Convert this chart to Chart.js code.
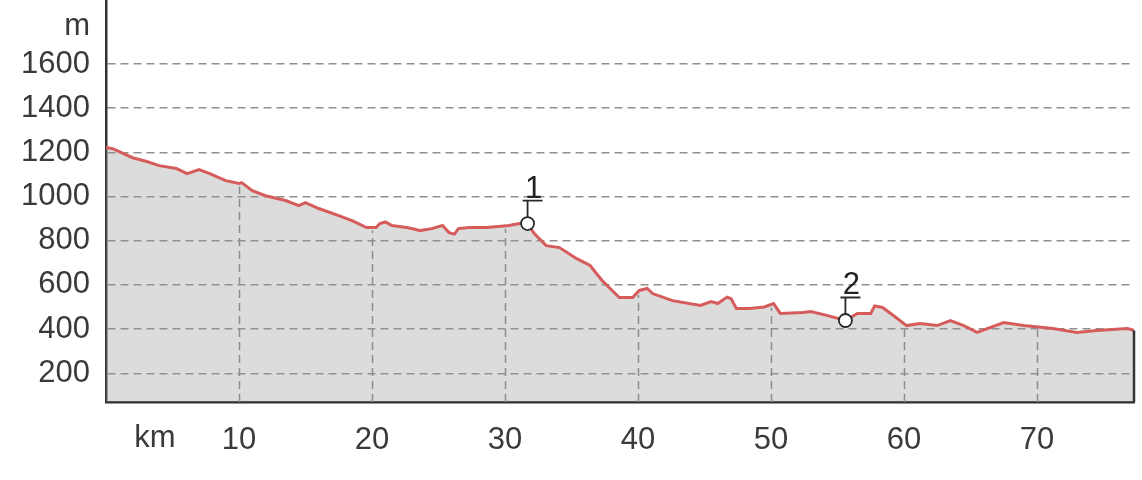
<!DOCTYPE html>
<html>
<head>
<meta charset="utf-8">
<script src="https://cdn.jsdelivr.net/npm/chart.js@4"></script>
<style>
  html, body { margin: 0; padding: 0; background: #fff; }
  #wrap { width: 1142px; height: 480px; position: relative; }
</style>
</head>
<body>
<div id="wrap"><canvas id="profile"></canvas></div>
<script>
// distance along the route (km) and elevation (m)
const distanceKm = [0, 0.5, 2.0, 3.0, 4.0, 5.3, 6.1, 7.0, 7.8, 9.0, 10.0, 10.2, 11.0, 12.0, 13.5, 14.5, 15.0, 16.0, 17.5, 18.5,
  19.6, 20.3, 20.6, 21.0, 21.5, 22.6, 23.3, 23.6, 24.5, 25.3, 25.8, 26.2, 26.5, 27.3, 28.6, 29.5, 30.3, 31.1, 31.7, 32.2, 33.1, 34.1,
  35.4, 36.4, 37.3, 38.6, 39.6, 40.1, 40.7, 41.1, 42.6, 44.7, 45.5, 46.0, 46.7, 47.0, 47.4, 48.4, 49.5, 50.2, 50.7, 52.4, 53.0, 54.2, 55.6,
  56.5, 57.5, 57.8, 58.4, 59.5, 60.2, 61.2, 62.5, 63.5, 64.5, 65.5, 67.5, 69.0, 71.2, 73.0, 74.5, 76.8, 77.3];
const elevationM = [1222, 1217, 1176, 1160, 1140, 1127, 1104, 1122, 1104, 1072, 1059, 1063, 1027, 1004, 982, 959, 973, 946, 914, 891,
  860, 860, 878, 885, 869, 860, 851, 846, 855, 869, 837, 830, 855, 860, 860, 865, 869, 878, 878, 833, 778, 769,
  719, 688, 620, 543, 543, 575, 584, 561, 529, 507, 525, 516, 545, 538, 493, 493, 500, 516, 471, 475, 480, 462, 439,
  471, 471, 505, 498, 448, 416, 425, 416, 439, 416, 385, 430, 416, 403, 385, 394, 403, 394];

// waypoints
const markerKm = [31.7, 55.6];
const markerElev = [878, 439];
const markerLabels = ['1', '2'];

const xTicks = [10, 20, 30, 40, 50, 60, 70];
const yTicks = [200, 400, 600, 800, 1000, 1200, 1400, 1600];

const FONT = { family: "'Liberation Sans', Arial, sans-serif", size: 31 };
const TEXT = '#3a3a3a';

const elevAt = (km) => {
  for (let i = 1; i < distanceKm.length; i++) {
    if (km <= distanceKm[i]) {
      const t = (km - distanceKm[i - 1]) / (distanceKm[i] - distanceKm[i - 1]);
      return elevationM[i - 1] + t * (elevationM[i] - elevationM[i - 1]);
    }
  }
  return elevationM[elevationM.length - 1];
};

// vertical grid lines only below the profile
const underGrid = {
  id: 'underGrid',
  beforeDatasetsDraw(chart) {
    const { ctx, scales: { x, y }, chartArea } = chart;
    ctx.save();
    ctx.strokeStyle = '#8a8a8a';
    ctx.lineWidth = 1.5;
    ctx.setLineDash([8, 5]);
    xTicks.forEach(km => {
      const px = Math.round(x.getPixelForValue(km)) + 0.5;
      const py = y.getPixelForValue(elevAt(km));
      ctx.beginPath();
      ctx.moveTo(px, chartArea.bottom);
      ctx.lineTo(px, py + 3);
      ctx.stroke();
    });
    ctx.restore();
  }
};

const extras = {
  id: 'extras',
  afterDatasetsDraw(chart) {
    const { ctx, scales: { x, y }, chartArea } = chart;
    ctx.save();
    // right edge of the profile
    const last = distanceKm.length - 1;
    ctx.strokeStyle = '#333';
    ctx.lineWidth = 2.5;
    ctx.beginPath();
    ctx.moveTo(x.getPixelForValue(distanceKm[last]), y.getPixelForValue(elevationM[last]));
    ctx.lineTo(x.getPixelForValue(distanceKm[last]), chartArea.bottom);
    ctx.stroke();

    // waypoint markers
    markerKm.forEach((km, i) => {
      const px = x.getPixelForValue(km);
      const py = y.getPixelForValue(markerElev[i]);
      ctx.strokeStyle = '#2a2a2a';
      ctx.lineWidth = 1.8;
      ctx.beginPath();
      ctx.moveTo(px, py - 6);
      ctx.lineTo(px, py - 23);
      ctx.moveTo(px - 5, py - 23);
      ctx.lineTo(px + 15, py - 23);
      ctx.stroke();
      ctx.beginPath();
      ctx.arc(px, py, 6.5, 0, Math.PI * 2);
      ctx.fillStyle = '#fff';
      ctx.fill();
      ctx.stroke();
      ctx.fillStyle = '#222';
      ctx.font = `${FONT.size}px ${FONT.family}`;
      ctx.textAlign = 'center';
      ctx.textBaseline = 'alphabetic';
      ctx.fillText(markerLabels[i], px + 6, py - 26);
    });

    // unit labels
    ctx.fillStyle = TEXT;
    ctx.font = `${FONT.size}px ${FONT.family}`;
    ctx.textAlign = 'right';
    ctx.textBaseline = 'middle';
    ctx.fillText('m', chartArea.left - 16, 26);
    ctx.textAlign = 'center';
    ctx.fillText('km', 155, 438);
    ctx.restore();
  }
};

new Chart(document.getElementById('profile'), {
  type: 'line',
  data: {
    datasets: [{
      data: distanceKm.map((d, i) => ({ x: d, y: elevationM[i] })),
      borderColor: '#d65c5c',
      borderWidth: 3,
      backgroundColor: 'rgba(150,150,150,0.33)',
      fill: 'start',
      pointRadius: 0,
      tension: 0
    }]
  },
  options: {
    responsive: true,
    maintainAspectRatio: false,
    animation: false,
    layout: { padding: { top: 0, right: 8, left: 0, bottom: 0 } },
    plugins: { legend: { display: false }, tooltip: { enabled: false } },
    scales: {
      x: {
        type: 'linear',
        min: 0,
        max: 77.3,
        afterBuildTicks: (s) => { s.ticks = xTicks.map(v => ({ value: v })); },
        afterFit: (s) => { s.height = 78; s.paddingLeft = 0; s.paddingRight = 0; },
        grid: { display: false },
        border: { display: true, color: '#333', width: 2.5 },
        ticks: { font: FONT, color: TEXT, padding: 12, maxRotation: 0, callback: v => String(v) }
      },
      y: {
        min: 70,
        max: 1890,
        afterBuildTicks: (s) => { s.ticks = yTicks.map(v => ({ value: v })); },
        afterFit: (s) => { s.width = 106; s.paddingTop = 0; s.paddingBottom = 0; },
        grid: { color: '#8f8f8f', lineWidth: 1.5, drawTicks: false },
        border: { display: true, color: '#333', width: 2.5, dash: [8, 5] },
        ticks: { font: FONT, color: TEXT, padding: 16, callback: v => String(v) }
      }
    }
  },
  plugins: [underGrid, extras]
});
</script>
</body>
</html>
